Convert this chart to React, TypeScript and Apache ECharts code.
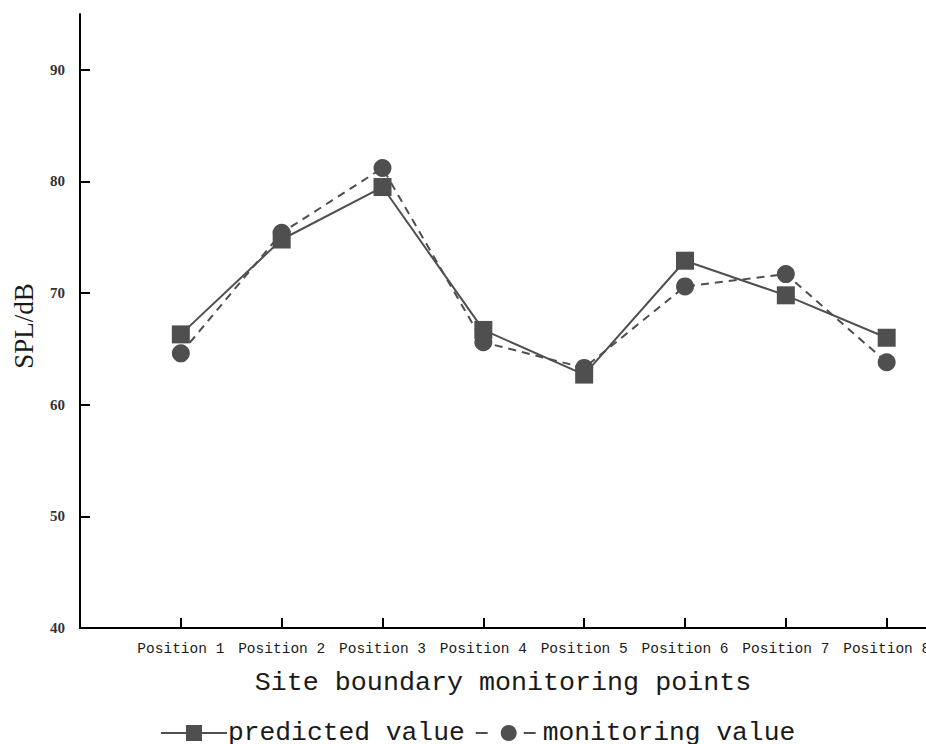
import React, { useEffect, useRef } from "react";
import * as echarts from "echarts";

const categories = [
  "Position 1",
  "Position 2",
  "Position 3",
  "Position 4",
  "Position 5",
  "Position 6",
  "Position 7",
  "Position 8",
];
const predicted = [66.3, 74.8, 79.5, 66.7, 62.7, 72.9, 69.8, 66.0];
const monitoring = [64.6, 75.4, 81.2, 65.6, 63.3, 70.6, 71.7, 63.8];
const yTicks = [40, 50, 60, 70, 80, 90];
const xTicks = categories.map((_, i) => i + 1);

const SERIES_COLOR = "#4f4f4f";

export default function App() {
  const ref = useRef<HTMLDivElement>(null);
  useEffect(() => {
    if (!ref.current) return;
    document.documentElement.style.overflow = "hidden";
    document.body.style.margin = "0";
    document.body.style.overflow = "hidden";
    const chart = echarts.init(ref.current, null, { renderer: "svg", width: 926, height: 744 });
    chart.setOption({
      animation: false,
      backgroundColor: "#ffffff",
      grid: { left: 80, right: 0, top: 14, bottom: 116, containLabel: false, outerBoundsMode: "none" },
      legend: {
        left: 155,
        top: 715,
        itemWidth: 66,
        itemHeight: 20,
        itemGap: 10,
        textStyle: { fontFamily: "Liberation Mono", fontSize: 26.3, color: "#1a1a1a", padding: [0, 0, 0, -4] },
        data: [
          { name: "predicted value" },
          { name: "monitoring value", lineStyle: { type: [12, 36], dashOffset: 0 } },
        ],
      },
      xAxis: {
        type: "value",
        min: 0,
        max: 8.39,
        name: "Site boundary monitoring points",
        nameLocation: "middle",
        nameGap: 41,
        nameTextStyle: { fontFamily: "Liberation Mono", fontSize: 26.7, color: "#1a1a1a" },
        splitLine: { show: false },
        axisLine: { show: true, lineStyle: { color: "#000", width: 2 } },
        axisTick: { show: true, inside: true, length: 10, lineStyle: { color: "#000", width: 2 }, customValues: xTicks },
        axisLabel: {
          customValues: xTicks,
          margin: 13,
          fontFamily: "Liberation Mono",
          fontSize: 14.5,
          color: "#1a1a1a",
          formatter: (v: number) => categories[Math.round(v) - 1] ?? "",
        },
      },
      yAxis: {
        type: "value",
        min: 40,
        max: 95,
        name: "SPL/dB",
        nameLocation: "middle",
        nameGap: 43,
        nameTextStyle: { fontFamily: "Liberation Serif", fontSize: 27, color: "#1a1a1a", padding: [0, 10, 0, 0] },
        splitLine: { show: false },
        axisLine: { show: true, lineStyle: { color: "#000", width: 2 } },
        axisTick: { show: true, inside: true, length: 10, lineStyle: { color: "#000", width: 2 }, customValues: yTicks },
        axisLabel: {
          customValues: yTicks,
          margin: 15,
          fontFamily: "Liberation Serif",
          fontSize: 15,
          fontWeight: "bold",
          color: "#333",
        },
      },
      series: [
        {
          name: "predicted value",
          type: "line",
          z: 3,
          symbol: "rect",
          symbolSize: 18,
          itemStyle: { color: SERIES_COLOR },
          lineStyle: { color: SERIES_COLOR, width: 2 },
          data: categories.map((_, i) => [i + 1, predicted[i]]),
        },
        {
          name: "monitoring value",
          type: "line",
          z: 2,
          symbol: "circle",
          symbolSize: 18,
          itemStyle: { color: SERIES_COLOR },
          lineStyle: { color: SERIES_COLOR, width: 2, type: [8, 6] },
          data: categories.map((_, i) => [i + 1, monitoring[i]]),
        },
      ],
    });
    return () => chart.dispose();
  }, []);
  return <div ref={ref} style={{ width: 926, height: 744, position: "absolute", left: 0, top: 0, overflow: "hidden" }} />;
}
